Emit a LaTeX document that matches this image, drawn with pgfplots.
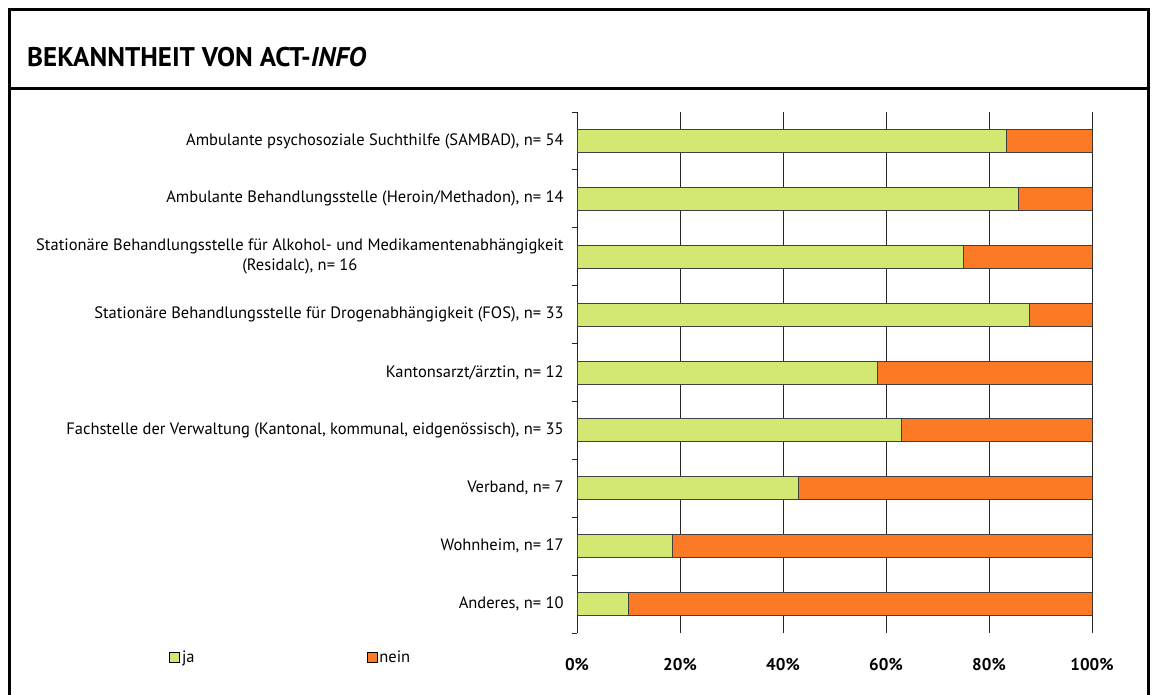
\documentclass[border=0pt]{standalone}
\usepackage{pgfplots}
\pgfplotsset{compat=1.18}
\usepackage{fontspec}
\setmainfont{PT Sans}
\definecolor{ja}{RGB}{211,232,115}
\definecolor{nein}{RGB}{252,122,38}
\begin{document}
\begin{tikzpicture}[x=1pt,y=1pt]
\useasboundingbox (0,0) rectangle (1156,695);
\draw[line width=3pt] (9,-20) -- (9,685.5) -- (1148,685.5) -- (1148,-20);
\draw[line width=3pt] (9,606) -- (1148,606);
\node[anchor=base west, inner sep=0pt, font=\fontsize{27}{31}\selectfont\bfseries] at (27,628) {BEKANNTHEIT VON ACT-\textit{INFO}};
\begin{axis}[at={(577pt,62pt)}, anchor=south west, scale only axis,
  width=515pt, height=521pt,
  xbar stacked, bar width=23pt,
  xmin=0, xmax=100, ymin=-0.5, ymax=8.5, y dir=reverse,
  axis y line*=left, axis x line*=bottom,
  x axis line style={draw=none},
  y axis line style={black!85, line width=0.8pt},
  xtick={0,20,...,100},
  xticklabel={\pgfmathprintnumber{\tick}\%},
  /pgf/number format/assume math mode=true,
  xticklabel style={font=\fontsize{17}{20}\selectfont\bfseries, anchor=base, yshift=-33pt},
  major x tick style={draw=none},
  xmajorgrids, grid style={black!85, line width=0.8pt},
  ytick={0,...,8},
  yticklabels={
    {Ambulante psychosoziale Suchthilfe (SAMBAD), n= 54},
    {Ambulante Behandlungsstelle (Heroin/Methadon), n= 14},
    {Stationäre Behandlungsstelle für Alkohol- und Medikamentenabhängigkeit\\(Residalc), n= 16},
    {Stationäre Behandlungsstelle für Drogenabhängigkeit (FOS), n= 33},
    {Kantonsarzt/ärztin, n= 12},
    {Fachstelle der Verwaltung (Kantonal, kommunal, eidgenössisch), n= 35},
    {Verband, n= 7},
    {Wohnheim, n= 17},
    {Anderes, n= 10}},
  yticklabel style={font=\fontsize{16.5}{20}\selectfont, align=center, inner sep=0pt, xshift=-9pt},
  major y tick style={draw=none},
  minor ytick={-0.5,0.5,...,8.5},
  minor y tick style={black!85, line width=0.8pt},
  minor tick length=5pt, tick align=outside,
  legend columns=2,
  legend image code/.code={\draw[#1, draw=black, line width=0.8pt] (0pt,-5pt) rectangle (10pt,5pt);},
  legend style={at={(axis description cs:-0.7922,-0.047)}, anchor=west, draw=none, fill=none, inner sep=0pt,
    font=\fontsize{16.5}{20}\selectfont, nodes={inner sep=2pt},
    /tikz/every even column/.append style={column sep=170pt}},
]
\addplot[fill=ja, draw=black!75, line width=0.8pt] coordinates {(83.3,0) (85.7,1) (75,2) (87.9,3) (58.3,4) (62.9,5) (42.9,6) (18.6,7) (10,8)};
\addplot[fill=nein, draw=black!75, line width=0.8pt] coordinates {(16.7,0) (14.3,1) (25,2) (12.1,3) (41.7,4) (37.1,5) (57.1,6) (81.4,7) (90,8)};
\legend{ja, nein}
\end{axis}
\end{tikzpicture}
\end{document}
